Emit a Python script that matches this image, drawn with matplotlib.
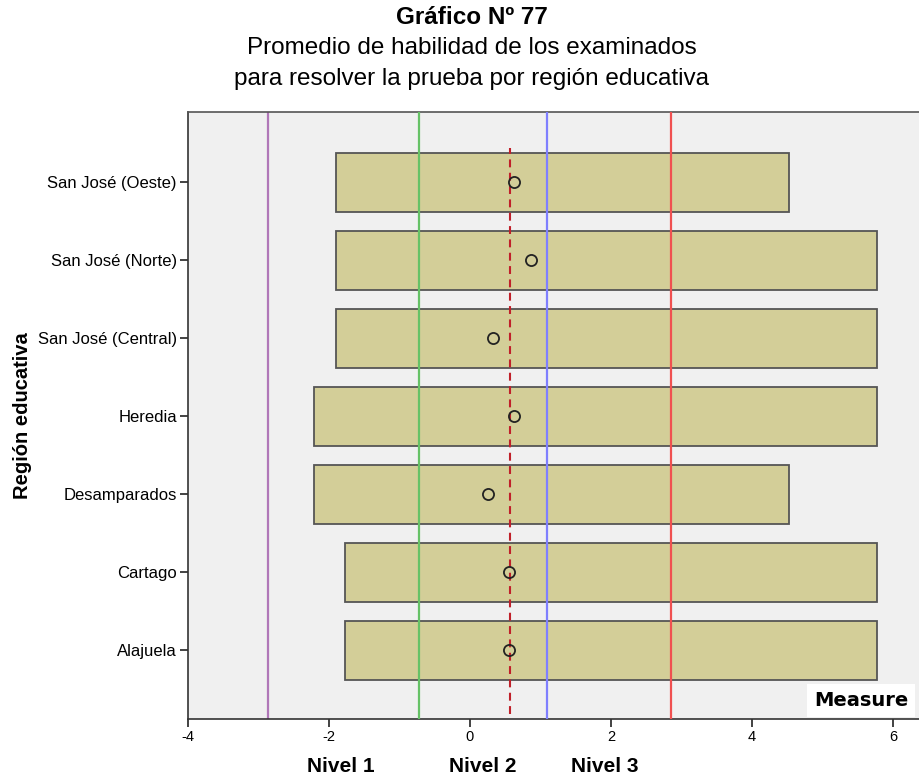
#!/usr/bin/env python3
# -*- coding: utf-8 -*-
import matplotlib
matplotlib.use("Agg")
import matplotlib.pyplot as plt

plt.rcParams['font.family'] = ['Liberation Sans', 'DejaVu Sans']
plt.rcParams['axes.unicode_minus'] = False

# data
regiones = ['Alajuela', 'Cartago', 'Desamparados', 'Heredia',
            'San José (Central)', 'San José (Norte)', 'San José (Oeste)']
minimo = [-1.77, -1.77, -2.21, -2.21, -1.90, -1.90, -1.90]
maximo = [5.77, 5.77, 4.52, 5.77, 5.77, 5.77, 4.52]
promedio = [0.56, 0.55, 0.25, 0.62, 0.32, 0.86, 0.62]

# cut points of the levels
cortes = [-2.86, -0.72, 1.09, 2.85]
colores_cortes = ['#B077B8', '#66C266', '#7F7FFF', '#F05050']
promedio_general = 0.57
niveles = ['Nivel 1', 'Nivel 2', 'Nivel 3']
pos_niveles = [-1.83, 0.18, 1.91]

fig = plt.figure(figsize=(9.19, 7.77), dpi=100)
ax = fig.add_axes([188/919, 1-719/777, 731/919, (719-112)/777])
ax.set_facecolor('#F0F0F0')

y = list(range(len(regiones)))
ax.axvline(cortes[0], color=colores_cortes[0], lw=1.6, zorder=1)

ax.barh(y, [b - a for a, b in zip(minimo, maximo)], left=minimo, height=0.76,
        color='#D3CE98', edgecolor='#555555', linewidth=1.3, zorder=2)
ax.axvline(promedio_general, ymin=0.008, ymax=0.94, color='#C0202A', lw=1.5,
           dashes=(3.8, 2.6), zorder=3)
for c, col in zip(cortes[1:], colores_cortes[1:]):
    ax.axvline(c, color=col, lw=1.6, zorder=3)
ax.plot(promedio, y, 'o', ms=8, mfc='none', mec='#222222', mew=1.3, zorder=4)

ax.set_xlim(-4, 6.37)
ax.set_ylim(-0.88, 6.9)
ax.set_xticks([-4, -2, 0, 2, 4, 6])
ax.set_yticks(y)
ax.set_yticklabels(regiones)
ax.tick_params(length=6, width=1.2, color='#222222', pad=2)
ax.tick_params(axis='y', labelsize=12)
ax.tick_params(axis='x', labelsize=10.5)
ax.spines['right'].set_visible(False)
for s in ['left', 'bottom', 'top']:
    ax.spines[s].set_linewidth(1.2)
    ax.spines[s].set_color('#333333')
ax.spines['top'].set_color('#555555')

ax.set_ylabel('Región educativa', fontsize=14.5, fontweight='bold')
ax.yaxis.set_label_coords(-0.214, 0.5)

ax.text(0.985, 0.015, 'Measure', transform=ax.transAxes, ha='right',
        va='bottom', fontsize=14, fontweight='bold', family='DejaVu Sans',
        zorder=5, bbox=dict(facecolor='white', edgecolor='none', pad=5))

for n, p in zip(niveles, pos_niveles):
    ax.text(p, -0.078, n, transform=ax.get_xaxis_transform(), ha='center',
            va='center', fontsize=15, fontweight='bold')

fig.text(0.513, 0.978, 'Gráfico Nº 77', ha='center', va='center',
         fontsize=17.5, fontweight='bold')
fig.text(0.513, 0.938, 'Promedio de habilidad de los examinados', ha='center',
         va='center', fontsize=17.5)
fig.text(0.513, 0.898, 'para resolver la prueba por región educativa',
         ha='center', va='center', fontsize=17.5)

fig.savefig('out.png', dpi=100)
